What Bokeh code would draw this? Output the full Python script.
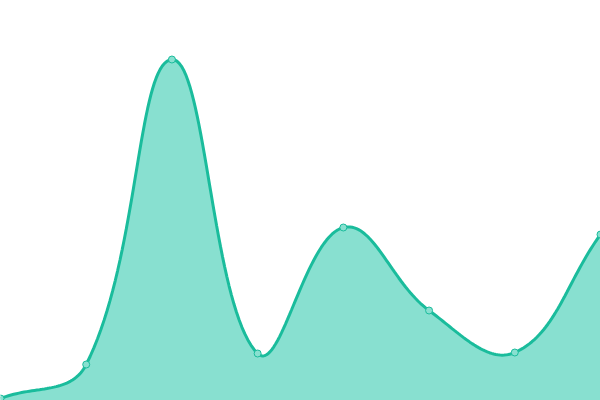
import numpy as np
from bokeh.plotting import figure
from bokeh.models import Range1d
from bokeh.embed import file_html
from bokeh.resources import INLINE

# data
labels = ["P1", "P2", "P3", "P4", "P5", "P6", "P7", "P8"]
values = [2, 36, 341, 47, 173, 90, 48, 166]

W, H = 600, 400
XMAX = len(values) - 1
YMAX = 400.0

p = figure(width=W, height=H, output_backend="svg", toolbar_location=None,
           x_range=Range1d(0, XMAX), y_range=Range1d(0, YMAX),
           min_border=0, min_border_left=0, min_border_right=0,
           min_border_top=0, min_border_bottom=0)
p.axis.visible = False
p.grid.visible = False
p.outline_line_color = None
p.background_fill_color = "white"
p.border_fill_color = "white"

# cardinal spline (tension 0.4) computed in pixel space
xs = np.arange(len(values), dtype=float)
ys = np.array(values, dtype=float)
sx = W / XMAX
sy = H / YMAX
px = xs * sx
py = ys * sy
t = 0.4
n = len(px)
cp_prev = np.zeros((n, 2))
cp_next = np.zeros((n, 2))
for i in range(n):
    pr = (px[max(i - 1, 0)], py[max(i - 1, 0)])
    cu = (px[i], py[i])
    nx = (px[min(i + 1, n - 1)], py[min(i + 1, n - 1)])
    d01 = np.hypot(cu[0] - pr[0], cu[1] - pr[1])
    d12 = np.hypot(nx[0] - cu[0], nx[1] - cu[1])
    tot = d01 + d12
    s01 = d01 / tot if tot else 0
    s12 = d12 / tot if tot else 0
    fa = t * s01
    fb = t * s12
    cp_prev[i] = (cu[0] - fa * (nx[0] - pr[0]), cu[1] - fa * (nx[1] - pr[1]))
    cp_next[i] = (cu[0] + fb * (nx[0] - pr[0]), cu[1] + fb * (nx[1] - pr[1]))

cx, cy = [], []
tt = np.linspace(0, 1, 40)
for i in range(n - 1):
    P0 = np.array([px[i], py[i]])
    P1 = cp_next[i]
    P2 = cp_prev[i + 1]
    P3 = np.array([px[i + 1], py[i + 1]])
    for k, s in enumerate(tt):
        if i > 0 and k == 0:
            continue
        b = ((1 - s) ** 3) * P0 + 3 * ((1 - s) ** 2) * s * P1 + 3 * (1 - s) * s * s * P2 + s ** 3 * P3
        cx.append(b[0] / sx)
        cy.append(b[1] / sy)

p.varea(x=cx, y1=[0] * len(cx), y2=cy, fill_color="#88E0D0")
p.line(x=cx, y=cy, line_color="#1ABC9C", line_width=3)
p.scatter(x=list(xs), y=values, size=7, fill_color="#88E0D0", line_color="#1ABC9C", line_width=1)

html = file_html(p, INLINE)
html = html.replace("<head>", "<head><style>html,body{margin:0;padding:0;overflow:hidden;}</style>", 1)
open("out.html", "w").write(html)
